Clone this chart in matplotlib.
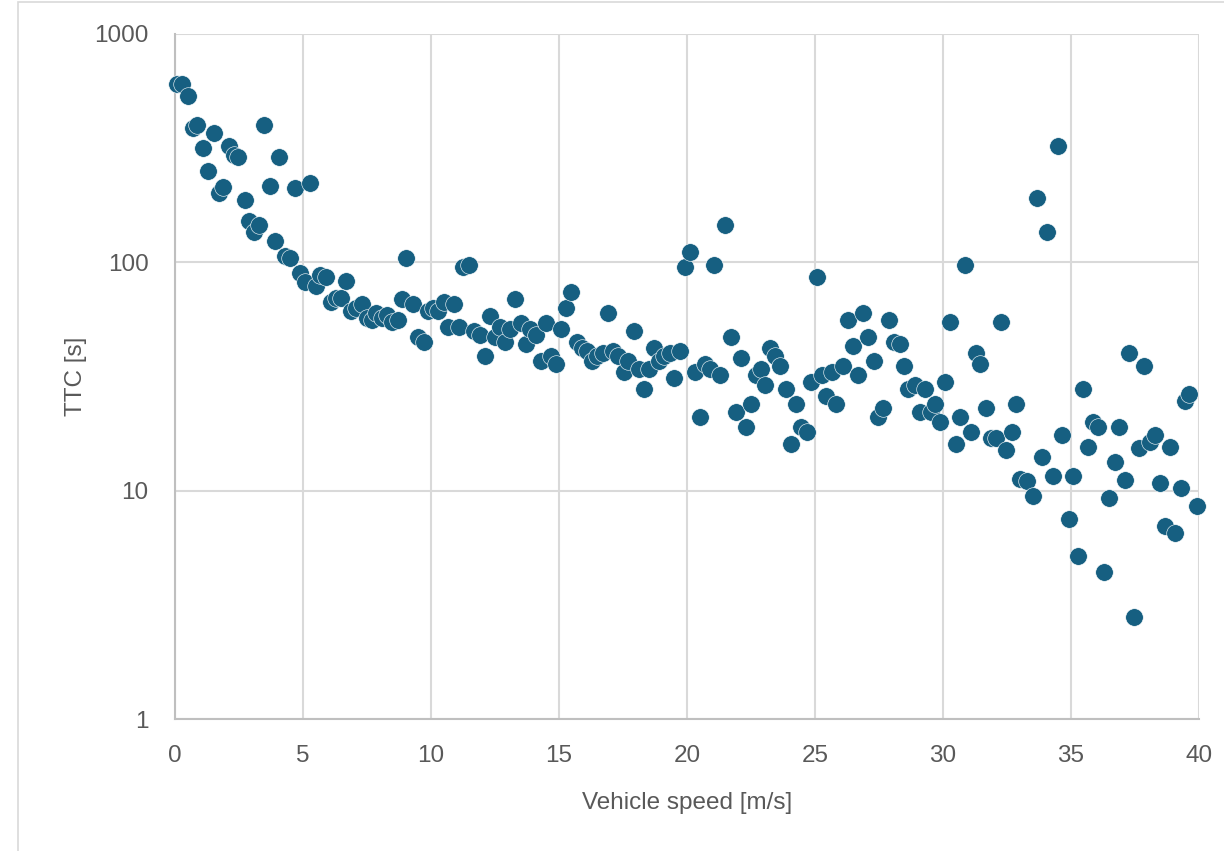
import matplotlib.pyplot as plt
from matplotlib.patches import Rectangle
from matplotlib.ticker import FixedLocator, NullLocator

plt.rcParams['font.family'] = ['Liberation Sans', 'DejaVu Sans']

# vehicle speed [m/s] and time to collision [s]
speed = [0.08, 0.27, 0.51, 0.70, 0.86, 1.09, 1.29, 1.52, 1.72, 1.88,
         2.11, 2.30, 2.46, 2.73, 2.89, 3.09, 3.28, 3.48, 3.71, 3.91,
         4.06, 4.30, 4.49, 4.69, 4.88, 5.08, 5.27, 5.51, 5.66, 5.90,
         6.09, 6.29, 6.48, 6.68, 6.88, 7.07, 7.30, 7.50, 7.70, 7.85,
         8.09, 8.28, 8.48, 8.71, 8.87, 9.02, 9.30, 9.49, 9.73, 9.88,
         10.08, 10.27, 10.51, 10.66, 10.90, 11.09, 11.25, 11.48, 11.68, 11.91,
         12.11, 12.30, 12.50, 12.70, 12.89, 13.09, 13.28, 13.52, 13.71, 13.87,
         14.10, 14.30, 14.49, 14.69, 14.88, 15.08, 15.27, 15.47, 15.70, 15.90,
         16.09, 16.29, 16.48, 16.72, 16.91, 17.11, 17.30, 17.54, 17.70, 17.93,
         18.13, 18.32, 18.52, 18.71, 18.91, 19.10, 19.34, 19.49, 19.73, 19.92,
         20.12, 20.31, 20.51, 20.70, 20.90, 21.05, 21.29, 21.48, 21.72, 21.91,
         22.11, 22.30, 22.50, 22.70, 22.89, 23.05, 23.24, 23.44, 23.63, 23.87,
         24.06, 24.26, 24.45, 24.69, 24.84, 25.08, 25.27, 25.43, 25.66, 25.82,
         26.09, 26.29, 26.48, 26.68, 26.88, 27.07, 27.30, 27.46, 27.66, 27.89,
         28.09, 28.32, 28.48, 28.63, 28.91, 29.10, 29.30, 29.53, 29.69, 29.88,
         30.08, 30.27, 30.51, 30.66, 30.86, 31.09, 31.29, 31.45, 31.68, 31.88,
         32.07, 32.27, 32.46, 32.70, 32.85, 33.01, 33.28, 33.52, 33.67, 33.87,
         34.06, 34.30, 34.49, 34.65, 34.92, 35.08, 35.27, 35.47, 35.66, 35.86,
         36.05, 36.29, 36.48, 36.72, 36.88, 37.11, 37.27, 37.46, 37.66, 37.85,
         38.09, 38.28, 38.48, 38.67, 38.87, 39.06, 39.30, 39.45, 39.61, 39.92]

ttc = [607, 607, 537, 389, 398, 318, 252, 370, 202, 213,
       324, 296, 290, 188, 151, 136, 145, 401, 217, 124,
       290, 107, 104, 212, 90, 82, 222, 79, 88, 86,
       67, 70, 70, 83, 61, 63, 66, 57, 56, 60,
       57, 59, 55, 56, 69, 104, 66, 47, 45, 61,
       63, 61, 67, 52, 66, 52, 95, 97, 50, 48,
       39, 58, 47, 52, 45, 51, 69, 54, 44, 51,
       48, 37, 54, 39, 36, 51, 63, 74, 45, 42,
       41, 37, 39, 40, 60, 41, 39, 33, 37, 50,
       34, 28, 34, 42, 37, 39, 40, 31, 41, 95,
       111, 33, 21, 36, 34, 97, 32, 146, 47, 22,
       38, 19, 24, 32, 34, 29, 42, 39, 35, 28,
       16, 24, 19, 18, 30, 86, 32, 26, 33, 24,
       35, 56, 43, 32, 60, 47, 37, 21, 23, 56,
       45, 44, 35, 28, 29, 22, 28, 22, 24, 20,
       30, 55, 16, 21, 97, 18, 40, 36, 23, 17,
       17, 55, 15, 18, 24, 11.3, 11, 9.5, 192, 14,
       136, 11.6, 324, 17.6, 7.5, 11.6, 5.2, 28, 15.5, 20,
       19, 4.4, 9.3, 13.3, 19, 11.1, 40, 2.8, 15.3, 35,
       16.4, 17.6, 10.8, 7.0, 15.6, 6.5, 10.3, 24.7, 26.5, 8.6]

x_ticks = [0, 5, 10, 15, 20, 25, 30, 35, 40]
y_ticks = [1, 10, 100, 1000]

fig = plt.figure(figsize=(12.24, 8.51), dpi=100)
ax = fig.add_axes([175 / 1224, 1 - 719 / 851, (1199 - 175) / 1224, (719 - 34) / 851])

# outer chart border
fig.patches.append(Rectangle((18 / 1224, -0.05), 1.1, 1 - 2 / 851 + 0.05,
                             transform=fig.transFigure, fill=False,
                             edgecolor='#d9d9d9', linewidth=1.2))

ax.scatter(speed, ttc, s=160, color='#165f81', edgecolors='white',
           linewidths=0.4, zorder=3, clip_on=False)

ax.set_yscale('log')
ax.set_xlim(0, 40)
ax.set_ylim(1, 1000)
ax.xaxis.set_major_locator(FixedLocator(x_ticks))
ax.yaxis.set_major_locator(FixedLocator(y_ticks))
ax.yaxis.set_minor_locator(NullLocator())
ax.set_yticklabels([str(v) for v in y_ticks])

ax.grid(True, color='#d9d9d9', linewidth=1.5, zorder=0)
ax.set_axisbelow(True)
for side in ['top', 'right']:
    ax.spines[side].set_visible(False)
for side in ['left', 'bottom']:
    ax.spines[side].set_color('#bfbfbf')
    ax.spines[side].set_linewidth(1.5)

ax.tick_params(length=0, labelsize=17.5, labelcolor='#595959')
ax.tick_params(axis='x', pad=19)
ax.tick_params(axis='y', pad=19)

ax.set_xlabel('Vehicle speed [m/s]', fontsize=17.5, color='#595959', labelpad=18)
ax.set_ylabel('TTC [s]', fontsize=17.5, color='#595959', labelpad=5)

fig.savefig('out.png', dpi=100)
